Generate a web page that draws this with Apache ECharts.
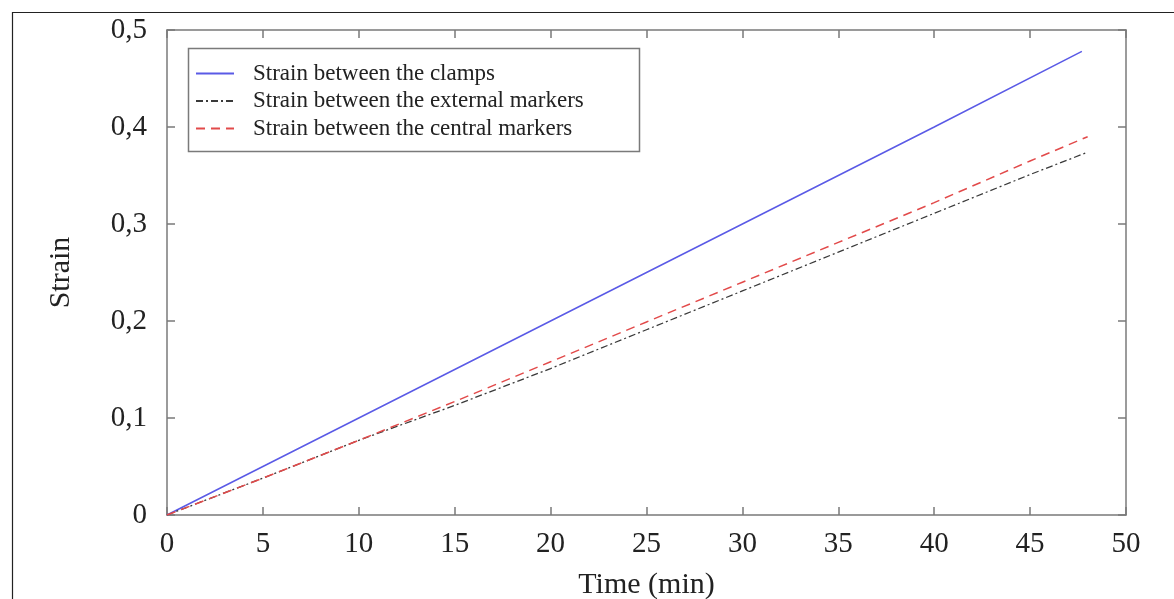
<!DOCTYPE html>
<html>
<head>
<meta charset="utf-8">
<script src="https://cdn.jsdelivr.net/npm/echarts@6/dist/echarts.min.js"></script>
<style>
  html, body { margin: 0; padding: 0; background: #fff; }
  #chart { width: 1174px; height: 599px; }
</style>
</head>
<body>
<div id="chart"></div>
<script>
// data
const seriesNames = [
  'Strain between the clamps',
  'Strain between the external markers',
  'Strain between the central markers'
];
const timeClamps = [0, 10, 20, 30, 40, 47.7];
const strainClamps = [0, 0.1, 0.2, 0.3, 0.4, 0.478];
const timeMarkers = [0, 5, 10, 15, 20, 25, 30, 35, 40, 45, 48];
const strainExternal = [0, 0.038, 0.077, 0.113, 0.151, 0.191, 0.231, 0.271, 0.311, 0.351, 0.374];
const strainCentral = [0, 0.038, 0.077, 0.117, 0.158, 0.199, 0.240, 0.281, 0.322, 0.365, 0.390];

const font = 'Liberation Serif';
const axisGray = '#7a7a7a';

function pairs(xs, ys) {
  return xs.map((x, i) => [x, ys[i]]);
}

const chart = echarts.init(document.getElementById('chart'));

const tickInside = { show: true, inside: true, length: 8, lineStyle: { color: axisGray, width: 1.5 } };
const line = { show: true, onZero: false, lineStyle: { color: axisGray, width: 1.5 } };

const options = {
  backgroundColor: '#fff',
  animation: false,
  grid: { left: 167, top: 30, right: 48, bottom: 84, outerBoundsMode: 'none' },
  legend: {
    orient: 'vertical',
    left: 186,
    top: 46,
    padding: [16, 0, 11, 9],
    itemGap: 4.5,
    itemWidth: 38,
    itemHeight: 23,
    itemStyle: { opacity: 0 },
    textStyle: { fontFamily: font, fontSize: 23, color: '#222', padding: [0, 0, 0, 14] },
    data: seriesNames
  },
  xAxis: [
    {
      type: 'value', min: 0, max: 50, interval: 5,
      name: 'Time (min)', nameLocation: 'middle', nameGap: 55,
      nameTextStyle: { fontFamily: font, fontSize: 30, color: '#222' },
      axisLine: line, axisTick: tickInside, splitLine: { show: false },
      axisLabel: { fontFamily: font, fontSize: 29, color: '#222', margin: 15 }
    },
    {
      type: 'value', min: 0, max: 50, interval: 5, position: 'top',
      axisLine: line, axisTick: tickInside, splitLine: { show: false },
      axisLabel: { show: false }
    }
  ],
  yAxis: [
    {
      type: 'value', min: 0, max: 0.5, interval: 0.1,
      name: 'Strain', nameLocation: 'middle', nameGap: 91, nameRotate: 90,
      nameTextStyle: { fontFamily: font, fontSize: 30, color: '#222' },
      axisLine: line, axisTick: tickInside, splitLine: { show: false },
      axisLabel: {
        fontFamily: font, fontSize: 29, color: '#222', margin: 20,
        formatter: v => v === 0 ? '0' : v.toFixed(1).replace('.', ',')
      }
    },
    {
      type: 'value', min: 0, max: 0.5, interval: 0.1, position: 'right',
      axisLine: line, axisTick: tickInside, splitLine: { show: false },
      axisLabel: { show: false }
    }
  ],
  series: [
    {
      name: seriesNames[0], type: 'line', symbol: 'none',
      lineStyle: { color: '#5a5ae6', width: 1.5, type: 'solid' },
      itemStyle: { color: '#5a5ae6' },
      data: pairs(timeClamps, strainClamps)
    },
    {
      name: seriesNames[1], type: 'line', symbol: 'none',
      lineStyle: { color: '#3a3a3a', width: 1.3, type: [7, 3, 2, 3] },
      itemStyle: { color: '#3a3a3a' },
      data: pairs(timeMarkers, strainExternal)
    },
    {
      name: seriesNames[2], type: 'line', symbol: 'none',
      lineStyle: { color: '#e24a4a', width: 1.5, type: [9, 6] },
      itemStyle: { color: '#e24a4a' },
      data: pairs(timeMarkers, strainCentral)
    }
  ],
  graphic: [
    {
      type: 'rect', left: 10, top: 10, silent: true,
      shape: { width: 1200, height: 700 },
      style: { fill: 'none', stroke: '#222', lineWidth: 1.2 }
    },
    {
      // legend frame
      type: 'rect', left: 186, top: 46, silent: true, z: 10,
      shape: { width: 451, height: 103 },
      style: { fill: 'none', stroke: axisGray, lineWidth: 1.5 }
    }
  ]
};

chart.setOption(options);
</script>
</body>
</html>
